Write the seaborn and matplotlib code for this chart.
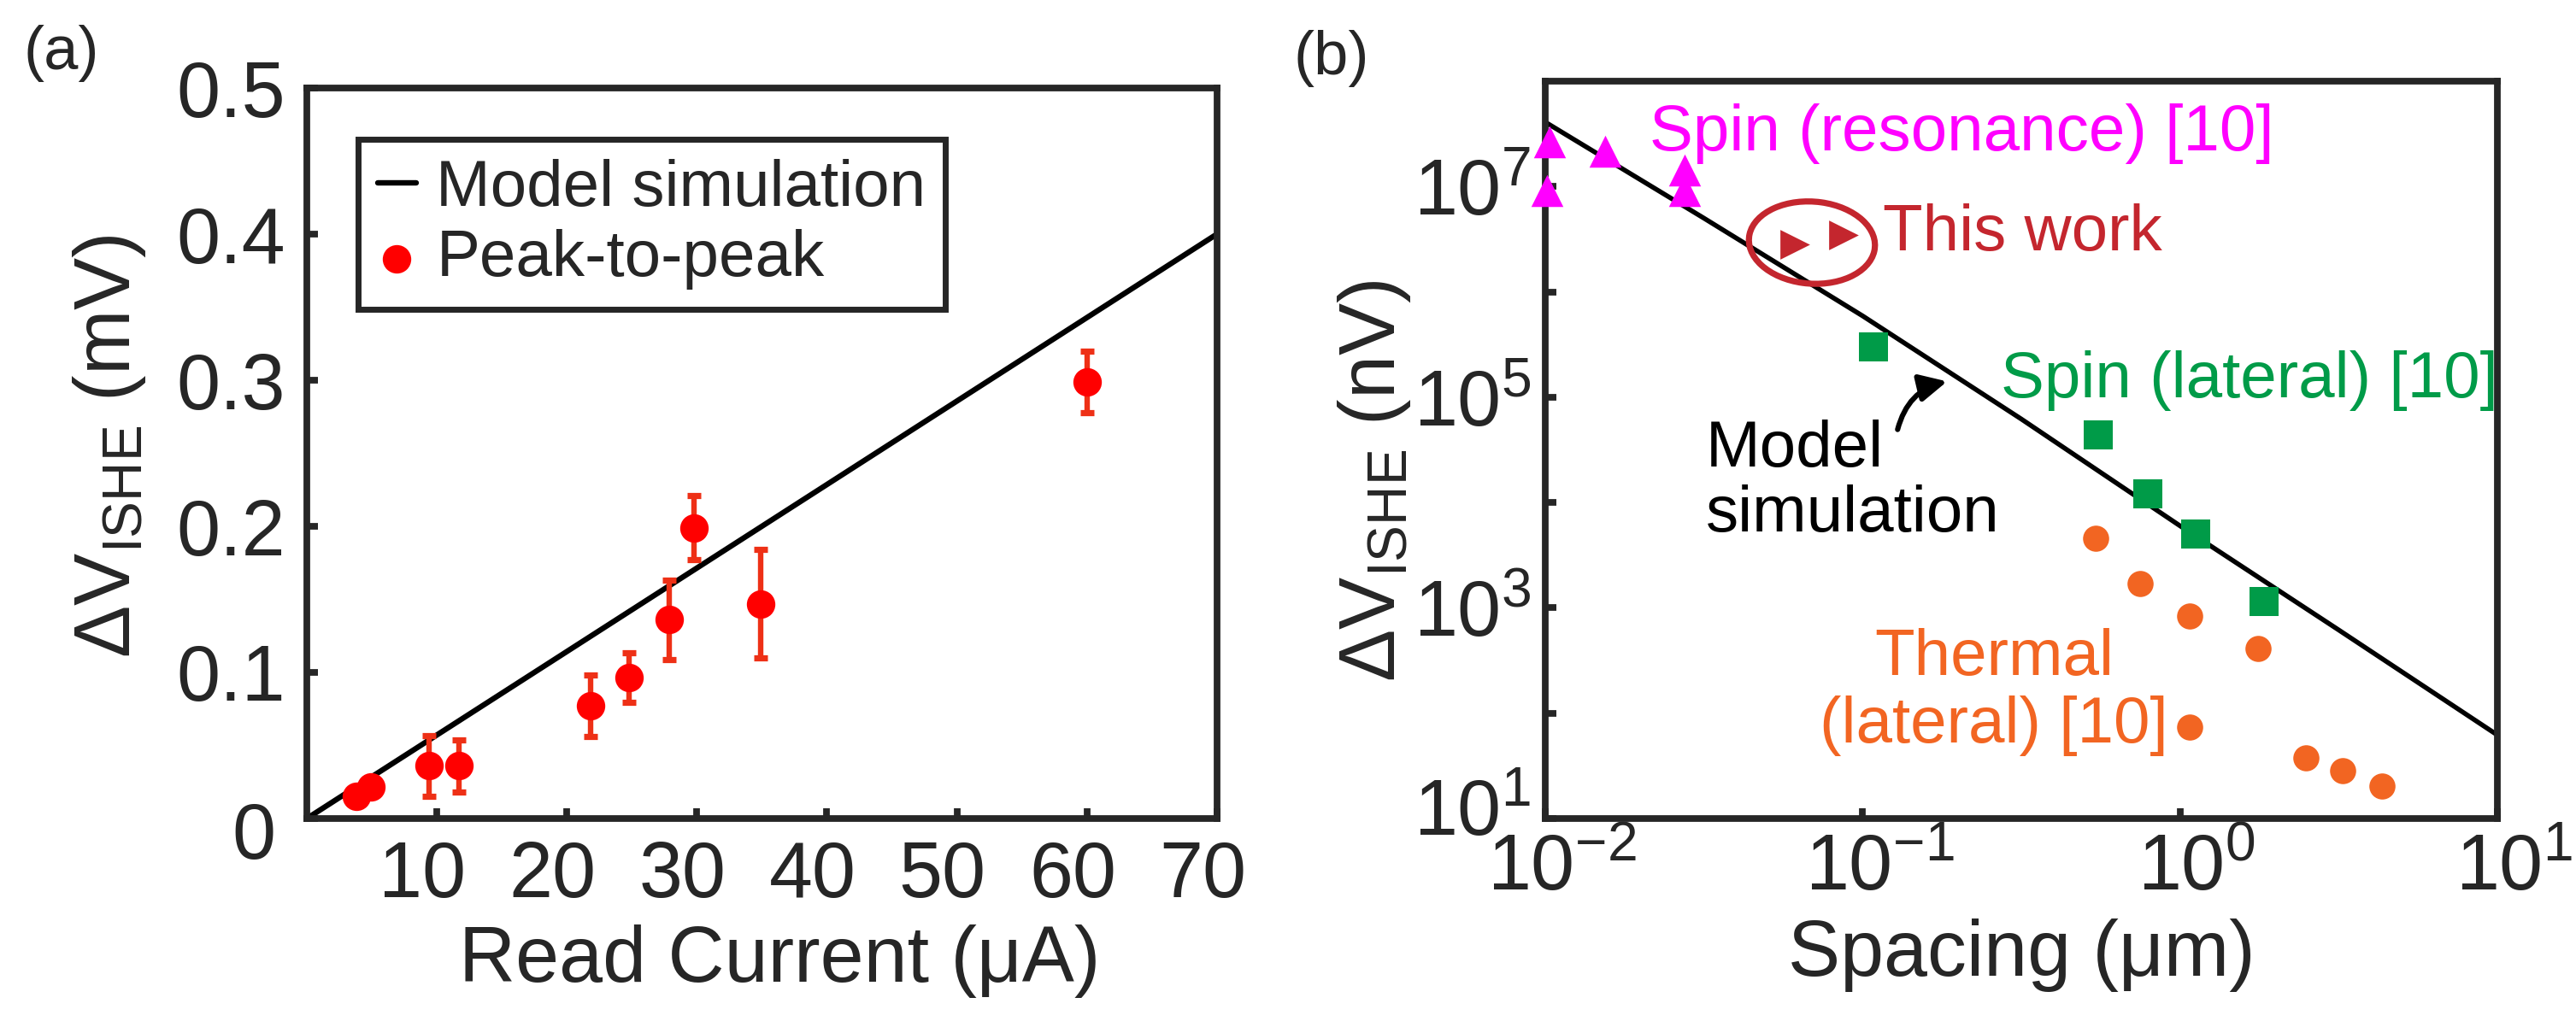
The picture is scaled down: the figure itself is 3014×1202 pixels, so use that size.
import numpy as np
import pandas as pd
import seaborn as sns
from matplotlib import pyplot as plt
from matplotlib.patches import Ellipse
from matplotlib.transforms import ScaledTranslation

sns.set_style('white')
plt.rcParams['font.family'] = ['Liberation Sans', 'DejaVu Sans']
plt.rcParams['mathtext.fontset'] = 'custom'
plt.rcParams['mathtext.rm'] = 'Liberation Sans'
plt.rcParams['mathtext.it'] = 'Liberation Sans:italic'
plt.rcParams['mathtext.bf'] = 'Liberation Sans:bold'

# (a) peak-to-peak ISHE voltage vs read current
model_i = [0, 70]
model_v = [0, 0.4]
read_i = [3.8, 4.9, 9.4, 11.7, 21.8, 24.8, 27.85, 29.8, 34.9, 60.0]
vpp = [0.015, 0.0216, 0.036, 0.036, 0.077, 0.0967, 0.136, 0.199, 0.147, 0.299]
vpp_err = [0, 0, 0.021, 0.018, 0.021, 0.017, 0.027, 0.022, 0.037, 0.021]

# (b) ISHE voltage vs spacing
sim_s = [0.01, 0.0316, 0.1, 0.316, 1.0, 3.16, 10]
sim_v = [4.08e7, 5.0e6, 5.9e5, 6.2e4, 6.0e3, 617, 62]
res_s = [0.0103, 0.0101, 0.01546, 0.0274, 0.0274]
res_v = [2.65e7, 9.2e6, 2.16e7, 1.42e7, 9.2e6]
work_s = [0.0610, 0.0871]
work_v = [2.81e6, 3.47e6]
lat_s = [0.108, 0.552, 0.793, 1.12, 1.84]
lat_v = [2.98e5, 4.4e4, 1.21e4, 5.05e3, 1.15e3]
th_s = [0.542, 0.748, 1.07, 1.76, 1.07, 2.49, 3.26, 4.33]
th_v = [4.6e3, 1.69e3, 830, 415, 74, 38, 28.5, 20.3]

dfa = pd.DataFrame({'I': read_i, 'V': vpp, 'err': vpp_err})

ink = '#262626'
fig = plt.figure(figsize=(15.07, 6.01), dpi=200)

def style(ax, pad):
    for sp in ax.spines.values():
        sp.set_visible(True)
        sp.set_linewidth(2.8)
        sp.set_color(ink)
    ax.tick_params(direction='in', length=4.5, width=2.8, labelsize=33,
                   pad=pad, colors=ink, top=False, right=False,
                   left=True, bottom=True)

def shift(labels, dx, dy):
    for lab in labels:
        lab.set_transform(lab.get_transform() + ScaledTranslation(dx / 72, dy / 72, fig.dpi_scale_trans))

#
# panel (a)
ax = fig.add_axes([0.1191, 0.2030, 0.3533, 0.7113])
sns.lineplot(x=model_i, y=model_v, color='k', lw=2.3, label='Model simulation', ax=ax)
ax.errorbar(dfa['I'], dfa['V'], yerr=dfa['err'], fmt='none', ecolor='#EE3016',
            elinewidth=2.3, capsize=3, capthick=2.6, zorder=2)
sns.scatterplot(data=dfa, x='I', y='V', color='#FF0000', s=12**2, linewidth=0,
                marker='o', label='Peak-to-peak', zorder=3, ax=ax)
ax.set_xlim(0, 70)
ax.set_ylim(0, 0.5)
ax.set_xticks([10, 20, 30, 40, 50, 60, 70])
ax.set_yticks([0, 0.1, 0.2, 0.3, 0.4, 0.5], ['0', '0.1', '0.2', '0.3', '0.4', '0.5'])
style(ax, 9)
shift(ax.get_xticklabels(), -6, 0)
shift(ax.get_yticklabels()[:1], -4, -5)
ax.set_xlabel('Read Current (μA)', fontsize=33, color=ink)
ax.set_ylabel('ΔV$_{\\mathrm{ISHE}}$ (mV)', fontsize=33, color=ink)
ax.xaxis.set_label_coords(0.52, -0.145)
ax.yaxis.set_label_coords(-0.175, 0.51)
leg = ax.legend(loc='upper left', bbox_to_anchor=(0.056, 0.930), borderaxespad=0,
                fontsize=27.5, handlelength=0.6, handletextpad=0.3, labelspacing=0.15,
                borderpad=0.3, frameon=True, fancybox=False, edgecolor=ink, framealpha=1)
leg.get_frame().set_linewidth(2.5)

#
# panel (b)
ax = fig.add_axes([0.5999, 0.2030, 0.3696, 0.7180])
ax.set(xscale='log', yscale='log')
sns.lineplot(x=sim_s, y=sim_v, color='k', lw=2.0, ax=ax, zorder=2)
sns.scatterplot(x=res_s, y=res_v, color='#FF00FF', marker='^', s=13.5**2, linewidth=0,
                clip_on=False, zorder=3, ax=ax)
sns.scatterplot(x=work_s, y=work_v, color='#C4262E', marker='>', s=12.5**2, linewidth=0,
                clip_on=False, zorder=3, ax=ax)
sns.scatterplot(x=lat_s, y=lat_v, color='#009B48', marker='s', s=12**2, linewidth=0,
                clip_on=False, zorder=3, ax=ax)
sns.scatterplot(x=th_s, y=th_v, color='#F26522', marker='o', s=11**2, linewidth=0,
                clip_on=False, zorder=3, ax=ax)
ax.set_xlim(1e-2, 1e1)
ax.set_ylim(1e1, 1e8)
ax.set_xticks([1e-2, 1e-1, 1e0, 1e1], ['10$^{-2}$', '10$^{-1}$', '10$^{0}$', '10$^{1}$'])
ax.set_yticks([1e1, 1e2, 1e3, 1e4, 1e5, 1e6, 1e7],
              ['10$^{1}$', '', '10$^{3}$', '', '10$^{5}$', '', '10$^{7}$'])
ax.minorticks_off()
style(ax, 6)
shift(ax.get_xticklabels(), 7, 0)
shift(ax.get_yticklabels()[:1], 0, 5)
ax.set_xlabel('Spacing (μm)', fontsize=33, color=ink)
ax.set_ylabel('ΔV$_{\\mathrm{ISHE}}$ (nV)', fontsize=33, color=ink)
ax.xaxis.set_label_coords(0.5, -0.135)
ax.yaxis.set_label_coords(-0.139, 0.458)

ax.add_patch(Ellipse((0.280, 0.781), 0.133, 0.111, angle=-10, transform=ax.transAxes,
                     fill=False, edgecolor='#C4262E', lw=2.6, zorder=4))
ax.text(0.0213, 3.16e7, 'Spin (resonance) [10]', color='#FF00FF', fontsize=27.5,
        ha='left', va='center')
ax.text(0.1159, 3.56e6, 'This work', color='#C4262E', fontsize=27.5, ha='left', va='center')
ax.text(0.2727, 1.43e5, 'Spin (lateral) [10]', color='#009B48', fontsize=27.5,
        ha='left', va='center')
ax.text(0.0321, 1.55e4, 'Model\nsimulation', color='k', fontsize=27.5, ha='left',
        va='center', linespacing=1.1)
ax.text(0.2595, 159, 'Thermal\n(lateral) [10]', color='#F26522', fontsize=27.5,
        ha='center', va='center', linespacing=1.14)
ax.annotate('', xy=(0.1845, 1.41e5), xytext=(0.1288, 4.93e4),
            arrowprops=dict(arrowstyle='-|>', connectionstyle='arc3,rad=-0.3',
                            color='k', lw=2.2, mutation_scale=24,
                            shrinkA=0, shrinkB=0))

fig.text(0.009, 0.9476, '(a)', fontsize=26, ha='left', va='center')
fig.text(0.5023, 0.9434, '(b)', fontsize=26, ha='left', va='center')

fig.savefig('out.png', dpi=200)
